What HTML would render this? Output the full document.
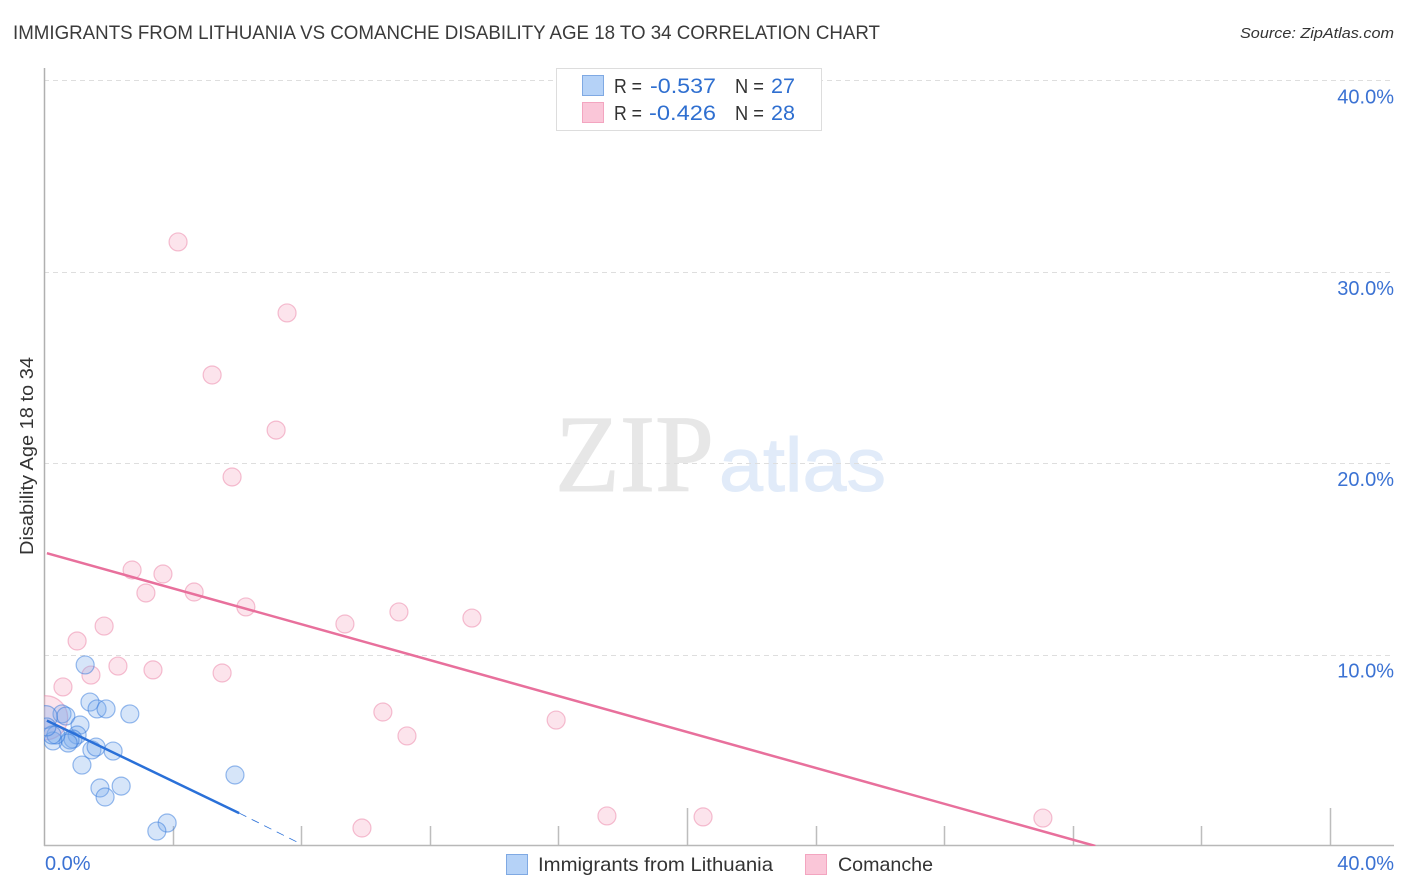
<!DOCTYPE html>
<html lang="en">
<head>
<meta charset="utf-8">
<title>Immigrants from Lithuania vs Comanche Disability Age 18 to 34 Correlation Chart</title>
<style>
html,body{margin:0;padding:0;background:#fff;width:1406px;height:892px;overflow:hidden}
svg{display:block;font-family:"Liberation Sans",sans-serif}
</style>
</head>
<body>
<svg id="chart" width="1406" height="892" viewBox="0 0 1406 892" xmlns="http://www.w3.org/2000/svg">
  <defs>
    <clipPath id="plot-clip"><rect x="44" y="60" width="1350" height="786"></rect></clipPath>
  </defs>
  <text x="13" y="39" font-size="19" fill="#3a3a3a" textLength="867" lengthAdjust="spacingAndGlyphs">IMMIGRANTS FROM LITHUANIA VS COMANCHE DISABILITY AGE 18 TO 34 CORRELATION CHART</text>
  <text x="1394" y="38" font-size="15" font-style="italic" fill="#333" text-anchor="end" textLength="154" lengthAdjust="spacingAndGlyphs">Source: ZipAtlas.com</text>

  <g>
    <text x="555" y="491" font-family="'Liberation Serif',serif" font-size="110" fill="#e7e7e7" stroke="#e7e7e7" stroke-width="1" textLength="159" lengthAdjust="spacingAndGlyphs">ZIP</text>
    <text x="719" y="491" font-size="76" fill="#e1ebf9" stroke="#e1ebf9" stroke-width="1" textLength="167" lengthAdjust="spacingAndGlyphs">atlas</text>
  </g>

  <g id="grid"></g>
  <g id="x-ticks"></g>
  <g id="y-labels"></g>
  <g id="x-labels"></g>
  <line x1="44.5" y1="68" x2="44.5" y2="846" stroke="#b0b0b0" stroke-width="1.5"></line>
  <line x1="44" y1="845.5" x2="1394" y2="845.5" stroke="#b8b8b8" stroke-width="1.5"></line>

  <g id="points" clip-path="url(#plot-clip)"></g>
  <g id="trends" clip-path="url(#plot-clip)"></g>

  <text x="33" y="456" font-size="18" fill="#333" text-anchor="middle" textLength="198" lengthAdjust="spacingAndGlyphs" transform="rotate(-90 33 456)">Disability Age 18 to 34</text>

  <g>
    <rect x="556.5" y="68.5" width="265" height="62" fill="#fff" stroke="#dddddd"></rect>
    <rect x="582.5" y="75.5" width="21" height="20" fill="#b5d2f7" stroke="#7fa9e3"></rect>
    <rect x="582.5" y="102.5" width="21" height="20" fill="#fac6d8" stroke="#f3a5c0"></rect>
    <text x="614" y="93" font-size="20" fill="#333" textLength="28" lengthAdjust="spacingAndGlyphs">R =</text>
    <text x="650" y="93" font-size="21" fill="#2f6fd0" textLength="66" lengthAdjust="spacingAndGlyphs">-0.537</text>
    <text x="735" y="93" font-size="20" fill="#333" textLength="29" lengthAdjust="spacingAndGlyphs">N =</text>
    <text x="771" y="93" font-size="21" fill="#2f6fd0" textLength="24" lengthAdjust="spacingAndGlyphs">27</text>
    <text x="614" y="120" font-size="20" fill="#333" textLength="28" lengthAdjust="spacingAndGlyphs">R =</text>
    <text x="649" y="120" font-size="21" fill="#2f6fd0" textLength="67" lengthAdjust="spacingAndGlyphs">-0.426</text>
    <text x="735" y="120" font-size="20" fill="#333" textLength="29" lengthAdjust="spacingAndGlyphs">N =</text>
    <text x="771" y="120" font-size="21" fill="#2f6fd0" textLength="24" lengthAdjust="spacingAndGlyphs">28</text>
  </g>

  <g>
    <rect x="506.5" y="854.5" width="21" height="20" fill="#b5d2f7" stroke="#7fa9e3"></rect>
    <text x="538" y="871" font-size="19.5" fill="#333" textLength="235" lengthAdjust="spacingAndGlyphs">Immigrants from Lithuania</text>
    <rect x="805.5" y="854.5" width="21" height="20" fill="#fac6d8" stroke="#f3a5c0"></rect>
    <text x="838" y="871" font-size="19.5" fill="#333" textLength="95" lengthAdjust="spacingAndGlyphs">Comanche</text>
  </g>
</svg>

<script>
const xTickValues = [4, 8, 12, 16, 20, 24, 28, 32, 36, 40];
const xMajorTicks = [20, 40];
const xLabelValues = [0, 40];
const xTickLabels = ['0.0%', '40.0%'];
const yTickValues = [10, 20, 30, 40];
const yTickLabels = ['10.0%', '20.0%', '30.0%', '40.0%'];

const lithuaniaX = [1.28, 1.43, 1.65, 1.93, 2.67, 0.56, 0.68, 1.12, 0.06, 1.03, 0.90, 0.81, 0.75, 0.28, 0.37, 0.25, 1.49, 1.62, 2.15, 1.18, 1.74, 2.40, 1.90, 5.94, 3.83, 3.51, 0.09];
const lithuaniaY = [9.46, 7.52, 7.16, 7.16, 6.90, 6.90, 6.79, 6.32, 6.74, 5.80, 5.59, 5.54, 5.38, 5.49, 5.80, 5.80, 5.02, 5.17, 4.96, 4.23, 3.03, 3.13, 2.56, 3.71, 1.20, 0.78, 6.22];
const lithuaniaWeight = [1, 1, 1, 1, 1, 1, 1, 1, 1.6, 1, 1, 1, 1, 1, 1, 1, 1, 1, 1, 1, 1, 1, 1, 1, 1, 1, 1];

const comancheX = [4.17, 7.56, 5.23, 7.22, 5.85, 2.74, 3.70, 3.17, 4.67, 6.28, 1.87, 1.03, 9.36, 11.04, 13.31, 2.30, 3.39, 5.54, 1.46, 0.59, 10.54, 11.29, 15.93, 17.51, 20.50, 9.89, 31.07, 0.05];
const comancheY = [31.56, 27.85, 24.61, 21.73, 19.28, 14.42, 14.21, 13.22, 13.27, 12.49, 11.49, 10.71, 11.60, 12.23, 11.91, 9.40, 9.20, 9.04, 8.93, 8.31, 7.00, 5.75, 6.58, 1.57, 1.52, 0.94, 1.46, 6.70];
const comancheWeight = [1, 1, 1, 1, 1, 1, 1, 1, 1, 1, 1, 1, 1, 1, 1, 1, 1, 1, 1, 1, 1, 1, 1, 1, 1, 1, 1, 6];

const lithuaniaTrendX = [0.09, 6.07];
const lithuaniaTrendY = [6.55, 1.72];
const lithuaniaExtendX = [6.07, 8.0];
const lithuaniaExtendY = [1.72, 0.1];
const comancheTrendX = [0.09, 32.7];
const comancheTrendY = [15.3, 0.0];

const NS = 'http://www.w3.org/2000/svg';
function xScale(v) { return 44 + v * 32.15; }
function yScale(v) { return 846 - v * 19.14; }
function make(tag, attrs, parent) {
  const el = document.createElementNS(NS, tag);
  for (const k in attrs) el.setAttribute(k, attrs[k]);
  parent.appendChild(el);
  return el;
}

const gridGroup = document.getElementById('grid');
const yLabelGroup = document.getElementById('y-labels');
yTickValues.forEach(function (v, i) {
  const py = Math.round(yScale(v)) + 0.5;
  const line = make('line', { x1: 44, x2: 1394, y1: py, y2: py, stroke: '#dedede', 'stroke-width': 1, 'stroke-dasharray': '5 4' }, gridGroup);
  
  
  const label = make('text', { x: 1394, y: yScale(v) + 23, 'font-size': 20, fill: '#3b72d3', 'text-anchor': 'end' }, yLabelGroup);
  label.textContent = yTickLabels[i];
  
  
});

const xTickGroup = document.getElementById('x-ticks');
xTickValues.forEach(function (v) {
  const px = Math.round(xScale(v)) + 0.5;
  const major = xMajorTicks.indexOf(v) >= 0;
  const tick = make('line', { x1: px, x2: px, y1: major ? 808 : 826, y2: 846, stroke: '#bdbdbd', 'stroke-width': 1.5 }, xTickGroup);
  
  
});

const xLabelGroup = document.getElementById('x-labels');
xLabelValues.forEach(function (v, i) {
  const label = make('text', { x: v === 0 ? xScale(v) + 1 : 1394, y: 870, 'font-size': 20, fill: '#3b72d3', 'text-anchor': v === 0 ? 'start' : 'end' }, xLabelGroup);
  label.textContent = xTickLabels[i];
  
  
});

const pointGroup = document.getElementById('points');
comancheX.forEach(function (v, i) {
  const c = make('circle', { cx: xScale(v), cy: yScale(comancheY[i]), r: 9 * Math.sqrt(comancheWeight[i]), fill: 'rgba(246,170,196,0.32)', stroke: 'rgba(236,130,165,0.5)', 'stroke-width': 1.2 }, pointGroup);
  
  
});
lithuaniaX.forEach(function (v, i) {
  const c = make('circle', { cx: xScale(v), cy: yScale(lithuaniaY[i]), r: 9 * Math.sqrt(lithuaniaWeight[i]), fill: 'rgba(120,170,236,0.3)', stroke: 'rgba(50,120,220,0.5)', 'stroke-width': 1.2 }, pointGroup);
  
  
});

const trendGroup = document.getElementById('trends');
const comancheLine = make('line', { x1: xScale(comancheTrendX[0]), y1: yScale(comancheTrendY[0]), x2: xScale(comancheTrendX[1]), y2: yScale(comancheTrendY[1]), stroke: '#e8709c', 'stroke-width': 2.5 }, trendGroup);


const lithuaniaLine = make('line', { x1: xScale(lithuaniaTrendX[0]), y1: yScale(lithuaniaTrendY[0]), x2: xScale(lithuaniaTrendX[1]), y2: yScale(lithuaniaTrendY[1]), stroke: '#2a70d8', 'stroke-width': 2.5 }, trendGroup);


const lithuaniaDash = make('line', { x1: xScale(lithuaniaExtendX[0]), y1: yScale(lithuaniaExtendY[0]), x2: xScale(lithuaniaExtendX[1]), y2: yScale(lithuaniaExtendY[1]), stroke: '#2a70d8', 'stroke-width': 0.8, 'stroke-dasharray': '8 6' }, trendGroup);


</script>
</body>
</html>
